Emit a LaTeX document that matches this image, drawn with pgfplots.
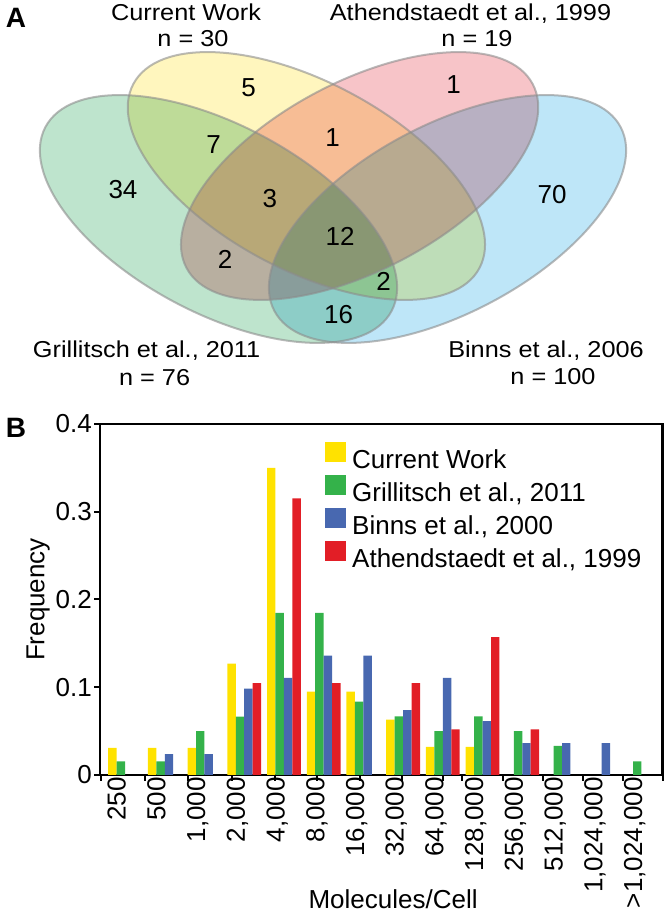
\documentclass[border=0pt]{standalone}
\usepackage{pgfplots}
\pgfplotsset{compat=1.18}
\usepackage{fontspec}
\setmainfont{Liberation Sans}
\definecolor{cwY}{RGB}{255,226,0}
\definecolor{grG}{RGB}{52,178,74}
\definecolor{biB}{RGB}{72,104,176}
\definecolor{atR}{RGB}{226,30,38}
\definecolor{vY}{RGB}{255,246,190}
\definecolor{vP}{RGB}{247,196,200}
\definecolor{vG}{RGB}{190,228,205}
\definecolor{vB}{RGB}{190,230,248}
\newcommand{\bigf}{\fontsize{26bp}{30bp}\selectfont}
\newcommand{\venf}{\fontsize{23bp}{27bp}\selectfont}
\begin{document}
\begin{tikzpicture}
\useasboundingbox (0bp,0bp) rectangle (666bp,918bp);
% ---------------- Panel A: Venn diagram ----------------
\begin{axis}[
  at={(0bp,518bp)}, anchor=south west,
  scale only axis, width=666bp, height=400bp,
  xmin=0, xmax=666, ymin=0, ymax=400, y dir=reverse,
  hide axis, clip=false,
]
\addplot[draw=none] coordinates {(0,0) (666,400)};
\begin{scope}[blend mode=multiply]
\fill[vG, rotate around={-28:(axis cs:218.5,219)}] (axis cs:218.5,219) ellipse [x radius=196bp, y radius=94bp];
\fill[vY, rotate around={-28:(axis cs:306.4,176)}] (axis cs:306.4,176) ellipse [x radius=196bp, y radius=94bp];
\fill[vP, rotate around={28:(axis cs:359.6,176)}] (axis cs:359.6,176) ellipse [x radius=196bp, y radius=94bp];
\fill[vB, rotate around={28:(axis cs:447.5,219)}] (axis cs:447.5,219) ellipse [x radius=196bp, y radius=94bp];
\end{scope}
\begin{scope}[draw=black!45, draw opacity=0.6, line width=2bp]
\draw[rotate around={-28:(axis cs:218.5,219)}] (axis cs:218.5,219) ellipse [x radius=196bp, y radius=94bp];
\draw[rotate around={-28:(axis cs:306.4,176)}] (axis cs:306.4,176) ellipse [x radius=196bp, y radius=94bp];
\draw[rotate around={28:(axis cs:359.6,176)}] (axis cs:359.6,176) ellipse [x radius=196bp, y radius=94bp];
\draw[rotate around={28:(axis cs:447.5,219)}] (axis cs:447.5,219) ellipse [x radius=196bp, y radius=94bp];
\end{scope}
\begin{scope}[every node/.style={font=\bigf, inner sep=0pt}]
\node at (axis cs:248.5,88) {5};
\node at (axis cs:453.7,85) {1};
\node at (axis cs:213.7,145) {7};
\node at (axis cs:332.6,138) {1};
\node at (axis cs:123,190) {34};
\node at (axis cs:552,195) {70};
\node at (axis cs:269.8,199) {3};
\node at (axis cs:340,236) {12};
\node at (axis cs:225,259) {2};
\node at (axis cs:383.6,281) {2};
\node at (axis cs:338.6,315) {16};
\end{scope}
\begin{scope}[every node/.style={font=\venf, inner sep=0pt, anchor=base, xscale=1.1}]
\node at (axis cs:186,21) {Current Work};
\node at (axis cs:193,47) {n = 30};
\node at (axis cs:470.5,21) {Athendstaedt et al., 1999};
\node at (axis cs:477,47) {n = 19};
\node at (axis cs:146.6,358) {Grillitsch et al., 2011};
\node at (axis cs:154.6,386) {n = 76};
\node at (axis cs:546,358) {Binns et al., 2006};
\node at (axis cs:553,385) {n = 100};
\end{scope}
\node[font=\fontsize{28bp}{32bp}\selectfont\bfseries, inner sep=0pt] at (axis cs:16,18) {A};
\node[font=\fontsize{28bp}{32bp}\selectfont\bfseries, inner sep=0pt] at (axis cs:16,428) {B};
\end{axis}
% ---------------- Panel B: bar chart ----------------
\begin{axis}[
  at={(100bp,143bp)}, anchor=south west,
  scale only axis, width=562.5bp, height=351bp,
  xmin=-0.63, xmax=13.53, ymin=0, ymax=0.4,
  axis line style={line width=2.5bp},
  ybar=0pt, bar width=8.45bp,
  tick pos=left, tick align=outside,
  major tick length=6bp,
  every tick/.style={black, line width=2bp},
  xtick={-0.61,0.5,1.58,2.69,3.77,4.83,5.91,6.97,8.01,8.48,9.52,10.52,11.53,12.54,13.53},
  xticklabels={},
  extra x ticks={0,1,2,3,4,5,6,7,8,9,10,11,12,13},
  extra x tick labels={250,500,{1,000},{2,000},{4,000},{8,000},{16,000},{32,000},{64,000},{128,000},{256,000},{512,000},{1,024,000},{>1,024,000}},
  extra x tick style={major tick length=0pt, tick label style={font=\bigf, xshift=-2bp, rotate=90, anchor=mid east, inner sep=2bp}},
  ytick={0,0.1,0.2,0.3,0.4},
  yticklabels={0,0.1,0.2,0.3,0.4},
  yticklabel style={font=\bigf, inner sep=2bp},
  ylabel={Frequency},
  ylabel style={font=\bigf, at={(axis description cs:-0.11,0.5)}, anchor=center},
  xlabel={Molecules/Cell},
  xlabel style={font=\bigf, at={(axis description cs:0.521,-0.353)}, anchor=center},
  legend style={at={(axis description cs:0.4,0.949)}, anchor=north west, draw=none, fill=none,
    font=\bigf, inner sep=0pt, row sep=0pt,
    nodes={inner sep=0pt, text height=19bp, text depth=7bp}},
  legend cell align=left,
  legend image code/.code={\fill[#1] (0bp,0bp) rectangle (21bp,20bp); \path (27bp,0bp);},
]
\addplot[fill=cwY, draw=none] coordinates {(0,0.031) (1,0.031) (2,0.031) (3,0.127) (4,0.35) (5,0.095) (6,0.095) (7,0.063) (8,0.032) (9,0.032)};
\addlegendentry{Current Work}
\addplot[fill=grG, draw=none] coordinates {(0,0.0156) (1,0.0156) (2,0.05) (3,0.0664) (4,0.1847) (5,0.1847) (6,0.0836) (7,0.0668) (8,0.05) (9,0.0668) (10,0.05) (11,0.0332) (13,0.0156)};
\addlegendentry{Grillitsch et al., 2011}
\addplot[fill=biB, draw=none] coordinates {(1,0.0237) (2,0.0237) (3,0.0985) (4,0.1107) (5,0.1359) (6,0.1359) (7,0.074) (8,0.1107) (9,0.0615) (10,0.0363) (11,0.0363) (12,0.0363)};
\addlegendentry{Binns et al., 2000}
\addplot[fill=atR, draw=none] coordinates {(3,0.1046) (4,0.3153) (5,0.1046) (7,0.1046) (8,0.0519) (9,0.157) (10,0.0519)};
\addlegendentry{Athendstaedt et al., 1999}
\end{axis}
\end{tikzpicture}
\end{document}
